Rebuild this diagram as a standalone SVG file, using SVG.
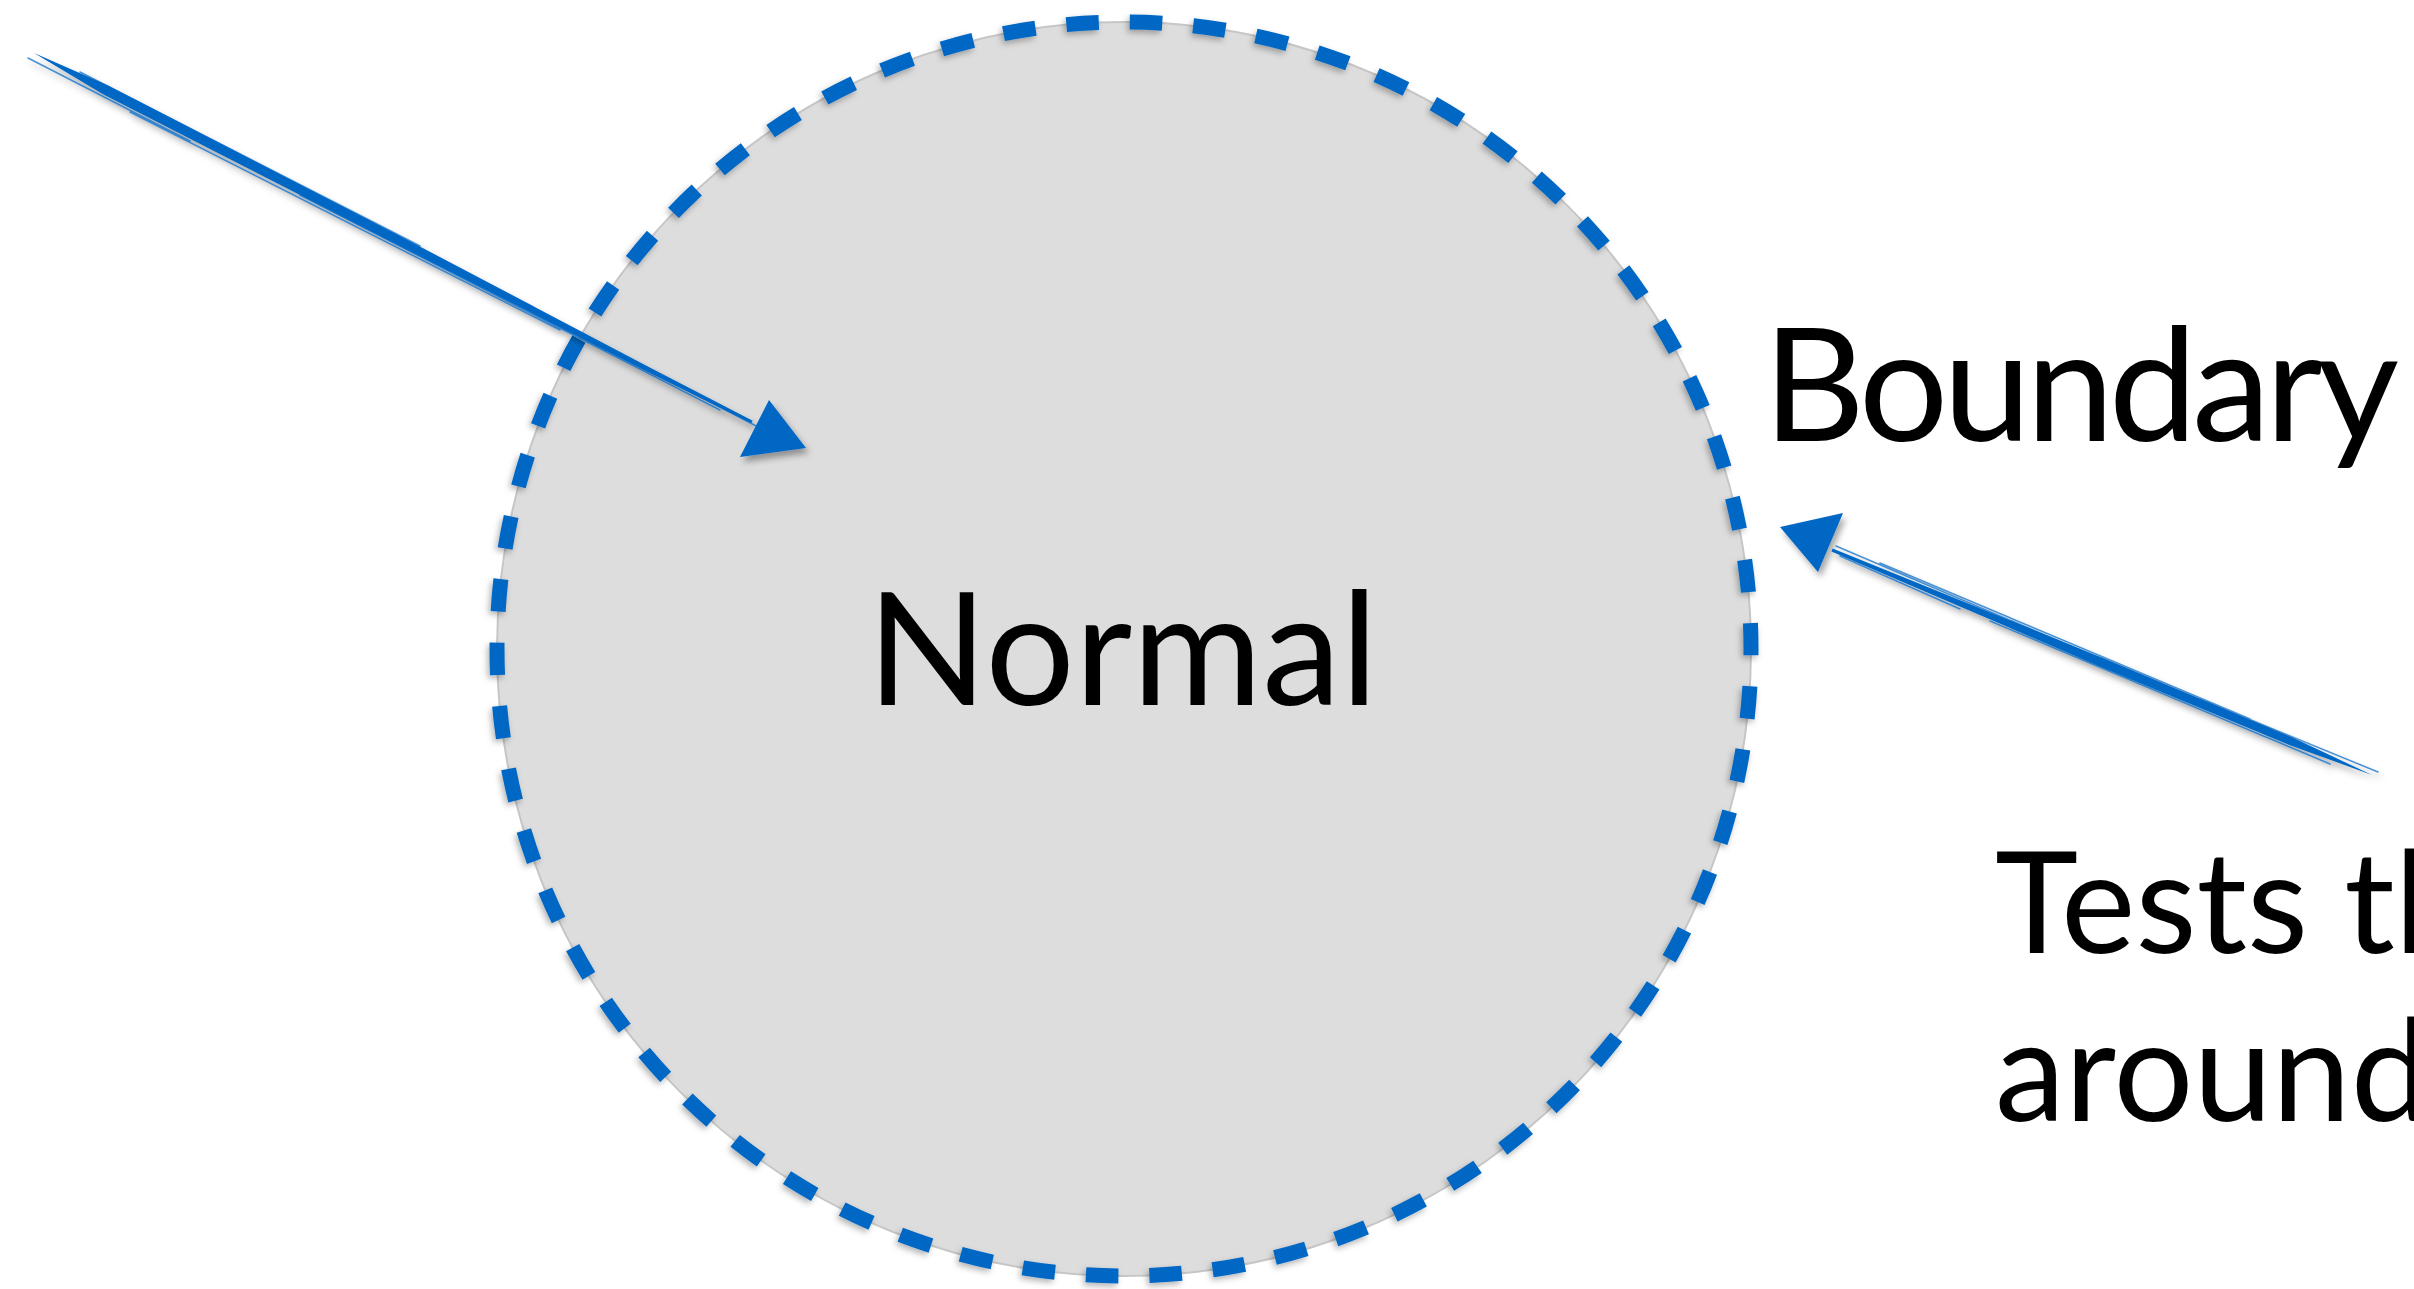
<svg xmlns="http://www.w3.org/2000/svg" width="2414" height="1289" viewBox="0 0 2414 1289">
  <style>
    .label { font-family: Lato, "Open Sans", "Liberation Sans", sans-serif; fill: #000000; }
    .ink { fill: #0567c4; }
    .streak { fill: none; stroke: #0567c4; stroke-width: 1.6; stroke-linecap: round; opacity: 0.7; }
    .rim { fill: none; stroke: #0567c4; stroke-width: 15; stroke-dasharray: 32.5 31.04; stroke-dashoffset: 26.2; }
  </style>
  <defs>
    <filter id="soft-shadow" x="-10%" y="-10%" width="120%" height="120%">
      <feDropShadow dx="3" dy="5" stdDeviation="3" flood-color="#000000" flood-opacity="0.35"/>
    </filter>
    <filter id="rim-shadow" x="-5%" y="-5%" width="110%" height="110%">
      <feDropShadow dx="-2" dy="3" stdDeviation="3" flood-color="#000000" flood-opacity="0.3"/>
    </filter>
  </defs>

  <rect width="2414" height="1289" fill="#ffffff"/>

  <!-- Normal region: grey disc with a dashed blue boundary -->
  <g id="normal">
    <circle cx="1124" cy="649" r="627" fill="#dddddd" stroke="#c6c6c6" stroke-width="2"/>
    <circle class="rim" cx="1124" cy="649" r="627" filter="url(#rim-shadow)"/>
    <text class="label" x="867" y="705" font-size="158">Normal</text>
  </g>

  <!-- Boundary label -->
  <g id="boundary">
    <text class="label" x="1763" y="441" font-size="158" textLength="636">Boundary</text>
  </g>

  <!-- Description text, running off the right edge -->
  <g id="description">
    <text class="label" x="1995" y="953" font-size="141">Tests th</text>
    <text class="label" x="1995" y="1121" font-size="141">around</text>
  </g>

  <!-- Hand-drawn arrows: tapered shaft, loose brush streaks, solid head -->
  <g id="connectors" filter="url(#soft-shadow)">
    <g id="arrow-into-normal">
      <polygon class="ink" points="34,53 103.51,94.45 390.94,241.5 643.16,369.72 751.31,423.33 752.69,420.67 645.45,365.28 395.06,233.5 108.09,85.56"/>
      <path class="streak" d="M28,58 L190,141 M80,72 L420,246 M130,112 L560,330 M300,195 L720,410 M480,282 L760,428"/>
      <polygon class="ink" points="806,448 769,400 740,457"/>
    </g>
    <g id="arrow-toward-boundary">
      <polygon class="ink" points="2372,775 2292.54,737.56 2103.73,658.35 1913.96,581.44 1832.58,548.62 1831.42,551.38 1912.04,586.06 2100.27,666.65 2289.46,744.94"/>
      <path class="streak" d="M2378,772 L2200,699 M2330,764 L1990,621 M2250,719 L1880,563 M2080,650 L1836,546 M1960,609 L1840,556"/>
      <polygon class="ink" points="1780,527 1843,513 1818,572"/>
    </g>
  </g>
</svg>
